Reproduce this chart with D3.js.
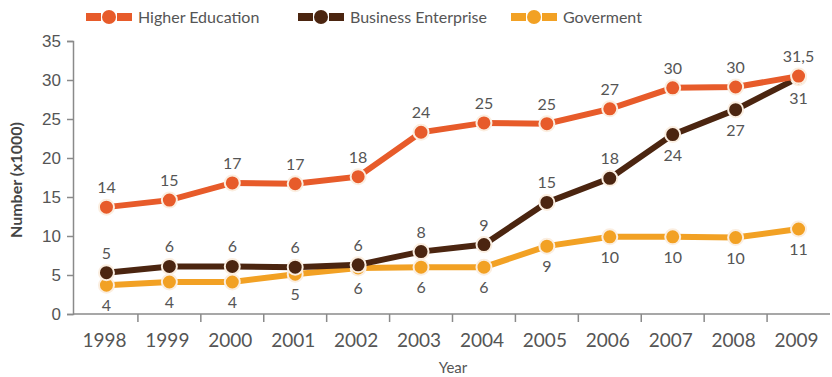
<!DOCTYPE html>
<html>
<head>
<meta charset="utf-8">
<script src="https://cdn.jsdelivr.net/npm/d3@7"></script>
<style>
  body { margin: 0; background: #fff; }
  svg { display: block; font-family: Lato, "Open Sans", sans-serif; }
</style>
</head>
<body>
<div id="chart"></div>
<script>
const YEARS = ["1998", "1999", "2000", "2001", "2002", "2003", "2004", "2005", "2006", "2007", "2008", "2009"];
const SERIES_NAMES = ["Higher Education", "Business Enterprise", "Goverment"];
const HIGHER_ED = [13.7, 14.6, 16.8, 16.7, 17.6, 23.3, 24.5, 24.4, 26.3, 29.0, 29.1, 30.5];
const BUSINESS = [5.3, 6.1, 6.1, 6.0, 6.3, 8.0, 8.9, 14.3, 17.4, 23.0, 26.2, 30.3];
const GOVERNMENT = [3.7, 4.1, 4.1, 5.1, 5.9, 6.0, 6.0, 8.7, 9.9, 9.9, 9.8, 10.9];
const HIGHER_ED_LABELS = ["14", "15", "17", "17", "18", "24", "25", "25", "27", "30", "30", "31,5"];
const BUSINESS_LABELS = ["5", "6", "6", "6", "6", "8", "9", "15", "18", "24", "27", "31"];
const GOVERNMENT_LABELS = ["4", "4", "4", "5", "6", "6", "6", "9", "10", "10", "10", "11"];
// label above (-1) or below (+1) the point
const BUSINESS_SIDE = [-1, -1, -1, -1, -1, -1, -1, -1, -1, 1, 1, 1];
const Y_TICKS = [0, 5, 10, 15, 20, 25, 30, 35];

const COLORS = ["#e75b2a", "#4b2510", "#f2a124"];
const W = 832, H = 377;

const svg = d3.select("#chart").append("svg")
  .attr("width", W).attr("height", H);

const x = d3.scaleBand().domain(YEARS).range([75, 830]);
const y = d3.scaleLinear().domain([0, 35]).range([314, 41]);

// y axis
const yAxis = svg.append("g")
  .attr("transform", "translate(73,0)")
  .call(d3.axisLeft(y).tickValues(Y_TICKS).tickSize(6).tickPadding(6));
yAxis.select(".domain").attr("stroke", "#8a8a8a").attr("stroke-width", 1.5);
yAxis.selectAll(".tick line").attr("stroke", "#8a8a8a").attr("stroke-width", 1.5);
yAxis.selectAll(".tick text").attr("fill", "#555").style("font-size", "17px");

// x axis
const xAxis = svg.append("g").attr("transform", "translate(0,314)");
xAxis.append("line")
  .attr("x1", 73).attr("x2", 830).attr("y1", 0).attr("y2", 0)
  .attr("stroke", "#8a8a8a").attr("stroke-width", 1.5);
xAxis.selectAll("line.tick")
  .data(YEARS.slice(1))
  .join("line")
  .attr("class", "tick")
  .attr("x1", d => x(d)).attr("x2", d => x(d))
  .attr("y1", 0).attr("y2", 8)
  .attr("stroke", "#8a8a8a").attr("stroke-width", 1.5);
xAxis.selectAll("text")
  .data(YEARS)
  .join("text")
  .attr("x", d => x(d) + x.bandwidth() / 2 - 2)
  .attr("y", 33)
  .attr("text-anchor", "middle")
  .attr("fill", "#555")
  .style("font-size", "19px")
  .text(d => d);

svg.append("text")
  .attr("x", 453).attr("y", 373)
  .attr("text-anchor", "middle")
  .attr("fill", "#555")
  .style("font-size", "15px")
  .text("Year");

svg.append("text")
  .attr("transform", "translate(22,180) rotate(-90)")
  .attr("text-anchor", "middle")
  .attr("fill", "#444")
  .style("font-size", "16px")
  .style("font-weight", "bold")
  .text("Number (x1000)");

const cx = d => x(d) + x.bandwidth() / 2;
const line = d3.line().x(d => cx(d.year)).y(d => y(d.value));

const seriesList = [
  { values: GOVERNMENT, labels: GOVERNMENT_LABELS, side: YEARS.map(() => 1), color: COLORS[2] },
  { values: BUSINESS, labels: BUSINESS_LABELS, side: BUSINESS_SIDE, color: COLORS[1] },
  { values: HIGHER_ED, labels: HIGHER_ED_LABELS, side: YEARS.map(() => -1), color: COLORS[0] }
];

seriesList.forEach(s => {
  const pts = YEARS.map((yr, i) => ({ year: yr, value: s.values[i], label: s.labels[i], side: s.side[i] }));
  const g = svg.append("g");
  g.append("path")
    .attr("d", line(pts))
    .attr("fill", "none")
    .attr("stroke", s.color)
    .attr("stroke-width", 6);
  g.selectAll("circle")
    .data(pts)
    .join("circle")
    .attr("cx", d => cx(d.year))
    .attr("cy", d => y(d.value))
    .attr("r", 7.5)
    .attr("fill", s.color)
    .attr("stroke", "#fbeee0")
    .attr("stroke-width", 2);
  g.selectAll("text")
    .data(pts)
    .join("text")
    .attr("x", d => cx(d.year))
    .attr("y", d => y(d.value) + (d.side < 0 ? -14 : 26))
    .attr("text-anchor", "middle")
    .attr("fill", "#555")
    .style("font-size", "16px")
    .text(d => d.label);
});

// legend
const legendX = [86, 298, 511];
const legend = svg.append("g").attr("transform", "translate(0,17)");
SERIES_NAMES.forEach((name, i) => {
  const color = COLORS[i];
  const row = legend.append("g").attr("transform", `translate(${legendX[i]},0)`);
  row.append("rect").attr("x", 0).attr("y", -4).attr("width", 15).attr("height", 8).attr("fill", color);
  row.append("rect").attr("x", 31).attr("y", -4).attr("width", 15).attr("height", 8).attr("fill", color);
  row.append("circle").attr("cx", 23).attr("cy", 0).attr("r", 7).attr("fill", color);
  row.append("text")
    .attr("x", 52).attr("y", 5.5)
    .attr("fill", "#555")
    .style("font-size", "16px")
    .text(name);
});
</script>
</body>
</html>
